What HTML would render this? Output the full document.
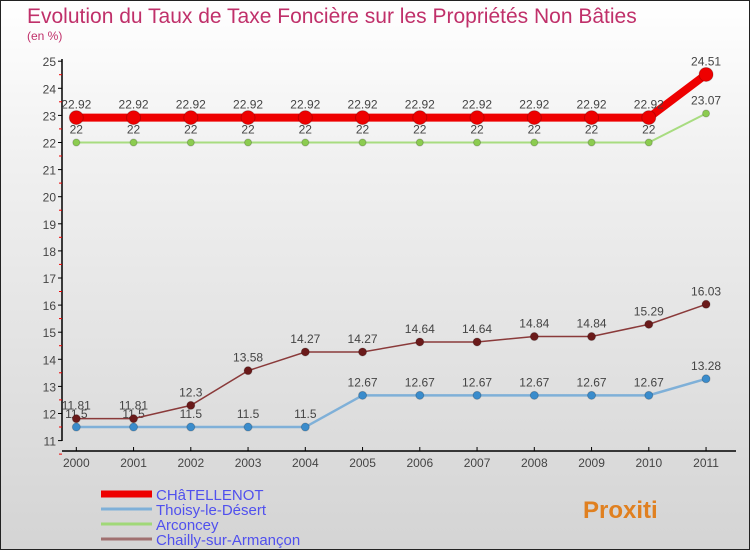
<!DOCTYPE html>
<html><head><meta charset="utf-8"><style>
body{margin:0}
#c{position:relative;width:748px;height:548px;border:1px solid #222;background:linear-gradient(#ffffff,#f0f0f0 30%,#d4d4d4);font-family:"Liberation Sans","DejaVu Sans",sans-serif;overflow:hidden}
svg{position:absolute;left:0;top:0}
</style></head><body>
<div id="c">
<svg id="s" width="748" height="548">
<text x="26" y="22" font-size="21" fill="#c0306a">Evolution du Taux de Taxe Foncière sur les Propriétés Non Bâties</text>
<text x="26" y="39" font-size="12" fill="#c0306a">(en %)</text>
</svg>
</div>
<script>
const years=[2000,2001,2002,2003,2004,2005,2006,2007,2008,2009,2010,2011];
const chatellenot=[22.92,22.92,22.92,22.92,22.92,22.92,22.92,22.92,22.92,22.92,22.92,24.51];
const thoisy=[11.5,11.5,11.5,11.5,11.5,12.67,12.67,12.67,12.67,12.67,12.67,13.28];
const arconcey=[22,22,22,22,22,22,22,22,22,22,22,23.07];
const chailly=[11.81,11.81,12.3,13.58,14.27,14.27,14.64,14.64,14.84,14.84,15.29,16.03];
const yTicks=[11,12,13,14,15,16,17,18,19,20,21,22,23,24,25];
const seriesNames=["CHâTELLENOT","Thoisy-le-Désert","Arconcey","Chailly-sur-Armançon"];
const NS="http://www.w3.org/2000/svg";
const s=document.getElementById('s');
const X=i=>75.3+i*57.25;
const Y=v=>439.6-(v-11)*27.1;
function el(t,a,p){const e=document.createElementNS(NS,t);for(const k in a)e.setAttribute(k,a[k]);(p||s).appendChild(e);return e;}
function fmt(v){return String(v);}
let ax=el('line',{x1:61,y1:58,x2:61,y2:440,stroke:'#000','stroke-width':1.5});


let xa=el('line',{x1:61,y1:450,x2:735,y2:450,stroke:'#000','stroke-width':1.5});


yTicks.forEach(v=>{
 const y=Y(v);
 el('line',{x1:57,y1:y,x2:61,y2:y,stroke:'#000'});
 el('line',{x1:58,y1:y+13.5,x2:61,y2:y+13.5,stroke:'#e00'});
 const t=el('text',{x:55,y:y+5,'font-size':12,fill:'#444','text-anchor':'end'});
 t.textContent=v;
 
 
});
years.forEach((yr,i)=>{
 el('line',{x1:X(i),y1:446,x2:X(i),y2:450,stroke:'#000'});
 const t=el('text',{x:X(i),y:466,'font-size':12,fill:'#444','text-anchor':'middle'});
 t.textContent=yr;
 
 
});
function series(data,color,w,r,name,dot){
 const g=el('g',{});
 
 
 el('polyline',{points:data.map((v,i)=>X(i)+','+Y(v)).join(' '),fill:'none',stroke:color,'stroke-width':w},g);
 data.forEach((v,i)=>{
  const c=el('circle',{cx:X(i),cy:Y(v),r:r,fill:dot,stroke:'#0003'},g);
  
  
  const t=el('text',{x:X(i),y:Y(v)-9,'font-size':12,fill:'#444','text-anchor':'middle'},g);
  t.textContent=fmt(v);
  
  
 });
}
series(thoisy,'#7fb0d8',2.5,4,'series-thoisy','#3a8ccc');
series(chailly,'#8a3a3a',1.5,4,'series-chailly','#6a1a1a');
series(arconcey,'#a8dc80',2,3.5,'series-arconcey','#8ccc50');
series(chatellenot,'#ee0000',8,7,'series-chatellenot','#ee0000');
const lc=['#ee0000','#7fb0d8','#a0d878','#a07070'],lw=[7,3,3,3];
seriesNames.forEach((n,i)=>{
 const y=493+i*15;
 const g=el('g',{});
 
 
 el('line',{x1:100,y1:y,x2:151,y2:y,stroke:lc[i],'stroke-width':lw[i]},g);
 const t=el('text',{x:155,y:y+6,'font-size':15,fill:'#5050ee'},g);
 t.textContent=n;
});
const p=el('text',{x:582,y:517,'font-size':24,'font-weight':'bold',fill:'#e08020'});
p.textContent='Proxiti';


</script>
</body></html>
